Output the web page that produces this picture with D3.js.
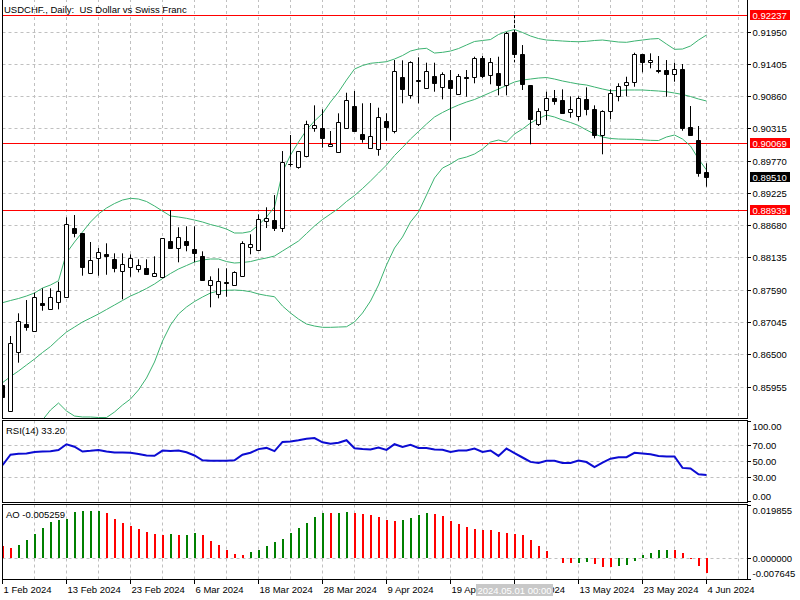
<!DOCTYPE html>
<html><head><meta charset="utf-8">
<script src="https://cdn.jsdelivr.net/npm/d3@7/dist/d3.min.js"></script>
<style>
html,body{margin:0;padding:0;background:#fff;}
svg{display:block;}
text{font-family:"Liberation Sans",Arial,sans-serif;font-size:9.5px;fill:#000;}
</style></head><body>
<svg id="chart" width="800" height="600"></svg>
<script>
// ---------- DATA ----------
const dates = ["2024.02.01","2024.02.02","2024.02.05","2024.02.06","2024.02.07","2024.02.08","2024.02.09","2024.02.12","2024.02.13","2024.02.14","2024.02.15","2024.02.16","2024.02.19","2024.02.20","2024.02.21","2024.02.22","2024.02.23","2024.02.26","2024.02.27","2024.02.28","2024.02.29","2024.03.01","2024.03.04","2024.03.05","2024.03.06","2024.03.07","2024.03.08","2024.03.11","2024.03.12","2024.03.13","2024.03.14","2024.03.15","2024.03.18","2024.03.19","2024.03.20","2024.03.21","2024.03.22","2024.03.25","2024.03.26","2024.03.27","2024.03.28","2024.03.29","2024.04.01","2024.04.02","2024.04.03","2024.04.04","2024.04.05","2024.04.08","2024.04.09","2024.04.10","2024.04.11","2024.04.12","2024.04.15","2024.04.16","2024.04.17","2024.04.18","2024.04.19","2024.04.22","2024.04.23","2024.04.24","2024.04.25","2024.04.26","2024.04.29","2024.04.30","2024.05.01","2024.05.02","2024.05.03","2024.05.06","2024.05.07","2024.05.08","2024.05.09","2024.05.10","2024.05.13","2024.05.14","2024.05.15","2024.05.16","2024.05.17","2024.05.20","2024.05.21","2024.05.22","2024.05.23","2024.05.24","2024.05.27","2024.05.28","2024.05.29","2024.05.30","2024.05.31","2024.06.03","2024.06.04"];

const open  = [0.85989,0.85555,0.86551,0.87019,0.86896,0.87368,0.87267,0.87391,0.87470,0.88635,0.88551,0.87875,0.88128,0.88196,0.88112,0.87909,0.87977,0.87943,0.87960,0.87824,0.87808,0.88416,0.88297,0.88416,0.88280,0.88162,0.87673,0.87521,0.87723,0.87673,0.87835,0.88314,0.88264,0.88758,0.88775,0.88640,0.89721,0.89665,0.89856,0.90324,0.90324,0.90030,0.89918,0.90334,0.90695,0.90222,0.89986,0.89969,0.90442,0.90273,0.91185,0.90881,0.91134,0.90999,0.91212,0.91016,0.91145,0.90898,0.91185,0.91185,0.91506,0.91219,0.91263,0.91050,0.91955,0.91573,0.91050,0.90396,0.90628,0.90830,0.90797,0.90594,0.90537,0.90814,0.90645,0.90216,0.90611,0.90864,0.91050,0.91101,0.91578,0.91438,0.91303,0.91308,0.91236,0.91320,0.90341,0.90126,0.89586];
const high  = [0.86023,0.86816,0.87200,0.87424,0.87548,0.87622,0.87622,0.87733,0.88821,0.88860,0.88556,0.88404,0.88302,0.88382,0.88213,0.88213,0.88196,0.88112,0.88112,0.88162,0.88470,0.88944,0.88652,0.88669,0.88669,0.88247,0.87824,0.87960,0.87960,0.87909,0.88416,0.88534,0.88871,0.88990,0.89197,0.89940,0.90211,0.89938,0.90452,0.90712,0.90645,0.90278,0.90577,0.90925,0.90954,0.90746,0.90751,0.90672,0.90577,0.91477,0.91472,0.91455,0.91523,0.91432,0.91432,0.91269,0.91308,0.91241,0.91308,0.91533,0.91545,0.91511,0.91533,0.91950,0.92237,0.91730,0.91052,0.90662,0.90942,0.90971,0.90982,0.90864,0.90864,0.91016,0.90712,0.90628,0.90982,0.91084,0.91195,0.91600,0.91580,0.91590,0.91545,0.91477,0.91432,0.91410,0.90700,0.90363,0.89733];
const low   = [0.85736,0.85550,0.86366,0.86906,0.86890,0.87244,0.87260,0.87267,0.87465,0.88483,0.87835,0.87870,0.87835,0.87851,0.87892,0.87436,0.87817,0.87892,0.87855,0.87820,0.87791,0.88295,0.88061,0.88247,0.88061,0.87765,0.87301,0.87453,0.87480,0.87670,0.87824,0.88196,0.88260,0.88640,0.88590,0.88573,0.89675,0.89642,0.89834,0.90266,0.89996,0.90027,0.89915,0.90330,0.90280,0.90081,0.89983,0.89861,0.90114,0.90239,0.90746,0.90824,0.90746,0.90995,0.90942,0.90814,0.90114,0.90895,0.90857,0.91084,0.91173,0.91067,0.90881,0.90881,0.91438,0.90971,0.90054,0.90363,0.90464,0.90722,0.90585,0.90503,0.90452,0.90543,0.90155,0.89885,0.90481,0.90780,0.90864,0.91026,0.91269,0.91337,0.91253,0.90857,0.91111,0.90283,0.90214,0.89507,0.89338];
const close = [0.85786,0.86693,0.87065,0.86973,0.87470,0.87345,0.87470,0.87571,0.88703,0.88561,0.87987,0.88095,0.88230,0.88172,0.87960,0.88027,0.88128,0.88010,0.87858,0.87875,0.88466,0.88297,0.88483,0.88348,0.88213,0.87767,0.87757,0.87740,0.87720,0.87892,0.88382,0.88365,0.88787,0.88809,0.88640,0.89750,0.89718,0.89935,0.90391,0.90374,0.90165,0.90054,0.90430,0.90797,0.90283,0.90138,0.90189,0.90520,0.90341,0.91286,0.90993,0.91438,0.91130,0.91296,0.91084,0.91241,0.91009,0.91202,0.91182,0.91506,0.91212,0.91438,0.91050,0.91938,0.91573,0.91067,0.90486,0.90621,0.90830,0.90790,0.90587,0.90645,0.90830,0.90645,0.90211,0.90611,0.90915,0.91043,0.91101,0.91578,0.91438,0.91472,0.91300,0.91236,0.91320,0.90324,0.90216,0.89574,0.89510];

// Bollinger Bands (20)
const bbUpper  = [0.87379,0.87416,0.87450,0.87492,0.87543,0.87627,0.87678,0.87750,0.88218,0.88404,0.88573,0.88742,0.88877,0.88978,0.89054,0.89113,0.89142,0.89130,0.89088,0.89012,0.88927,0.88843,0.88826,0.88804,0.88775,0.88742,0.88699,0.88666,0.88623,0.88556,0.88556,0.88581,0.88691,0.88826,0.88995,0.89586,0.89873,0.90092,0.90295,0.90447,0.90574,0.90768,0.90937,0.91139,0.91325,0.91384,0.91422,0.91435,0.91449,0.91494,0.91553,0.91629,0.91663,0.91675,0.91595,0.91607,0.91629,0.91671,0.91731,0.91790,0.91807,0.91823,0.91908,0.91959,0.91992,0.91942,0.91883,0.91840,0.91815,0.91807,0.91798,0.91790,0.91786,0.91793,0.91807,0.91815,0.91798,0.91781,0.91776,0.91798,0.91815,0.91832,0.91840,0.91747,0.91658,0.91663,0.91714,0.91815,0.91899];
const bbMiddle = [0.86028,0.86132,0.86225,0.86327,0.86428,0.86538,0.86639,0.86766,0.86884,0.86968,0.87053,0.87120,0.87188,0.87264,0.87340,0.87416,0.87492,0.87551,0.87619,0.87695,0.87787,0.87872,0.87948,0.88007,0.88066,0.88100,0.88117,0.88117,0.88074,0.88049,0.88058,0.88074,0.88108,0.88134,0.88167,0.88252,0.88336,0.88421,0.88547,0.88674,0.88784,0.88877,0.88970,0.89088,0.89189,0.89307,0.89434,0.89569,0.89704,0.89865,0.90000,0.90143,0.90270,0.90396,0.90515,0.90591,0.90658,0.90717,0.90768,0.90810,0.90869,0.90928,0.90988,0.91047,0.91106,0.91139,0.91156,0.91173,0.91182,0.91156,0.91123,0.91097,0.91072,0.91055,0.91021,0.90988,0.90959,0.90962,0.90971,0.90971,0.90971,0.90962,0.90954,0.90942,0.90920,0.90895,0.90861,0.90819,0.90785];
const bbLower  = [0.84554,0.84722,0.84891,0.85060,0.85229,0.85398,0.85567,0.85685,0.85550,0.85465,0.85449,0.85449,0.85440,0.85440,0.85533,0.85651,0.85753,0.85905,0.86107,0.86377,0.86732,0.87002,0.87188,0.87306,0.87399,0.87475,0.87543,0.87576,0.87588,0.87593,0.87585,0.87565,0.87526,0.87500,0.87480,0.87323,0.87205,0.87103,0.87019,0.86985,0.86963,0.86963,0.86968,0.86973,0.87053,0.87205,0.87407,0.87678,0.88015,0.88302,0.88488,0.88742,0.88910,0.89197,0.89485,0.89653,0.89721,0.89805,0.89839,0.89890,0.89974,0.90092,0.90126,0.90092,0.90228,0.90312,0.90413,0.90489,0.90548,0.90515,0.90464,0.90422,0.90371,0.90295,0.90228,0.90177,0.90152,0.90143,0.90140,0.90138,0.90130,0.90121,0.90118,0.90177,0.90211,0.90143,0.90025,0.89805,0.89620];

// RSI(14)
const rsi = [45.4,58.5,59.6,60,62,62.5,62.9,64.3,71.5,68.5,62.5,63.3,64.5,62.5,61.2,61.2,61,59.5,57.5,57.2,63.7,63,63.7,61.5,57.5,51.5,50.8,50.8,50.8,51.5,58.5,61,65.5,67,63,74.5,75,76.5,78.5,79.3,74,72.2,73.5,76.6,66.5,65.5,65,67.5,64.5,71.6,68.3,70.8,67,67,65,64.7,62,63.7,63.7,66.2,62,63.7,57,66.2,60.5,55,49.5,48.2,50.8,50.8,48.2,48.2,51.2,49.3,42.9,48.5,53.5,55.4,55.4,60.8,60,59.1,57,56.2,56.2,42,41.2,34.1,33.2];

// Awesome Oscillator
const ao = [0.00450,0.00386,0.00498,0.00673,0.00907,0.01119,0.01342,0.01416,0.01453,0.01713,0.01750,0.01752,0.01755,0.01687,0.01453,0.01304,0.01193,0.01081,0.00981,0.00907,0.00870,0.00907,0.00870,0.00872,0.00933,0.00870,0.00647,0.00498,0.00312,0.00164,0.00126,0.00227,0.00312,0.00461,0.00609,0.00721,0.00944,0.01130,0.01316,0.01538,0.01687,0.01685,0.01690,0.01713,0.01687,0.01639,0.01613,0.01538,0.01416,0.01390,0.01416,0.01501,0.01628,0.01676,0.01639,0.01576,0.01379,0.01267,0.01167,0.01093,0.01044,0.01040,0.00981,0.00933,0.00922,0.00870,0.00673,0.00450,0.00264,0.00010,-0.00182,-0.00185,-0.00156,-0.00145,-0.00208,-0.00320,-0.00331,-0.00282,-0.00230,-0.00097,0.00126,0.00216,0.00301,0.00305,0.00298,0.00201,-0.00020,-0.00282,-0.005259];

const priceTicks = [0.91950,0.91405,0.90860,0.90315,0.89770,0.89225,0.88680,0.88135,0.87590,0.87045,0.86500,0.85955];
const levelLines = [0.92237,0.90069,0.88939];
const lastPrice = 0.89510;
const rsiTicks = [100,70,50,30,0];
const rsiGrid = [70,50,30];
const aoTicks = [0.019855,0,-0.007645];
const xTickDates = ["2024.02.01","2024.02.13","2024.02.23","2024.03.06","2024.03.18","2024.03.28","2024.04.09","2024.04.19","2024.05.01","2024.05.13","2024.05.23","2024.06.04"];
const xTickLabels = ["1 Feb 2024","13 Feb 2024","23 Feb 2024","6 Mar 2024","18 Mar 2024","28 Mar 2024","9 Apr 2024","19 Apr 2024","1 May 2024","13 May 2024","23 May 2024","4 Jun 2024"];
const selectedDate = "2024.05.01";
const selectedLabel = "2024.05.01 00:00";
const titleMain = "USDCHF., Daily:  US Dollar vs Swiss Franc";
const titleRsi = "RSI(14) 33.20";
const titleAo = "AO -0.005259";

// ---------- LAYOUT ----------
const svg = d3.select("#chart");
const L = 2.5, R = 747.5;
const panels = {
  main: {top: -1, bottom: 418.5},
  rsi:  {top: 420.5, bottom: 502.5},
  ao:   {top: 504.5, bottom: 579.5}
};
const idx = new Map(dates.map((d,i)=>[d,i]));
const x = d3.scaleLinear().domain([0, 93.125]).range([2.5, 747.5]);
const yP = d3.scaleLinear().domain([0.85432, 0.92457]).range([418, 2]);
const yR = d3.scaleLinear().domain([0,100]).range([501.5,421.5]);
const yA = d3.scaleLinear().domain([-0.007645,0.019855]).range([579,505]);
const crisp = v => Math.floor(v) + 0.5;

const defs = svg.append("defs");
Object.entries(panels).forEach(([k,p])=>{
  defs.append("clipPath").attr("id","clip-"+k).append("rect")
    .attr("x", L+0.5).attr("y", p.top+0.5).attr("width", R-L-1).attr("height", p.bottom-p.top-1);
});

const gridColor = "#c0c0c0", dash = "3,3";
const gridIdx = d3.range(4, 93, 4);

function drawPanelGrid(key, hVals, yScale){
  const p = panels[key];
  const g = svg.append("g").attr("clip-path","url(#clip-"+key+")");
  g.selectAll("line.v").data(gridIdx).join("line")
    .attr("x1", i=>crisp(x(i))).attr("x2", i=>crisp(x(i)))
    .attr("y1", p.top).attr("y2", p.bottom)
    .attr("stroke", gridColor).attr("stroke-dasharray", dash).attr("stroke-width",1);
  g.selectAll("line.h").data(hVals).join("line")
    .attr("x1", L).attr("x2", R)
    .attr("y1", d=>crisp(yScale(d))).attr("y2", d=>crisp(yScale(d)))
    .attr("stroke", gridColor).attr("stroke-dasharray", dash).attr("stroke-width",1);
  return g;
}

// ---------- MAIN PANEL ----------
const gMain = drawPanelGrid("main", priceTicks, yP);

gMain.selectAll("line.lvl").data(levelLines).join("line")
  .attr("x1", L).attr("x2", R)
  .attr("y1", d=>crisp(yP(d))).attr("y2", d=>crisp(yP(d)))
  .attr("stroke", "#ff0000").attr("stroke-width", 1);

const bbLine = d3.line().x((d,i)=>x(i)).y(d=>yP(d));
[bbUpper, bbMiddle, bbLower].forEach(arr=>{
  gMain.append("path").datum(arr).attr("d", bbLine)
    .attr("fill","none").attr("stroke","#3cb371").attr("stroke-width",1);
});

const candles = dates.map((d,i)=>({d,i,o:open[i],h:high[i],l:low[i],c:close[i]}));
const gC = gMain.append("g");
gC.selectAll("line.wick").data(candles).join("line")
  .attr("x1", c=>crisp(x(c.i))).attr("x2", c=>crisp(x(c.i)))
  .attr("y1", c=>yP(c.h)).attr("y2", c=>yP(c.l))
  .attr("stroke","#000").attr("stroke-width",1)
  .attr("stroke-dasharray", c=>c.d===selectedDate ? "3,2" : null);
gC.selectAll("path.body").data(candles).join("path")
  .attr("d", c=>{
    const cx = Math.floor(x(c.i));
    const t = Math.round(yP(Math.max(c.o,c.c))) + 0.5;
    const b = Math.round(yP(Math.min(c.o,c.c))) + 0.5;
    return `M${cx-1.5},${t}H${cx+2.5}V${b}H${cx-1.5}Z`;
  })
  .attr("fill", c=> c.c < c.o ? "#000" : "#fff")
  .attr("stroke","#000").attr("stroke-width",1);

// ---------- RSI PANEL ----------
const gRsi = drawPanelGrid("rsi", rsiGrid, yR);
gRsi.append("path").datum(rsi)
  .attr("d", d3.line().x((d,i)=>x(i)).y(d=>yR(d)))
  .attr("fill","none").attr("stroke","#0c0cd2").attr("stroke-width",2);

// ---------- AO PANEL ----------
const gAo = drawPanelGrid("ao", [0], yA);
const y0 = Math.round(yA(0));
gAo.selectAll("rect.ao").data(ao).join("rect")
  .attr("x", (d,i)=>Math.floor(x(i))).attr("width", 2)
  .attr("y", d=>Math.min(y0, Math.round(yA(d))))
  .attr("height", d=>Math.abs(Math.round(yA(d)) - y0))
  .attr("fill", (d,i)=> (i>0 && d > ao[i-1]) ? "#008000" : "#ff0000");

// ---------- FRAMES ----------
Object.values(panels).forEach(p=>{
  svg.append("rect").attr("x", L).attr("y", p.top).attr("width", R-L).attr("height", p.bottom-p.top)
    .attr("fill","none").attr("stroke","#000").attr("stroke-width",1);
});

// ---------- TITLES ----------
svg.append("text").attr("x", 4).attr("y", 13).style("white-space","pre").text(titleMain);
svg.append("text").attr("x", 6).attr("y", 434).text(titleRsi);
svg.append("text").attr("x", 6).attr("y", 517.5).text(titleAo);

// ---------- RIGHT AXES ----------
const gAx = svg.append("g");
function axisLabels(vals, scale, fmt, clampTop, clampBot){
  vals.forEach(v=>{
    const yy = scale(v);
    gAx.append("line").attr("x1", R).attr("x2", 751).attr("y1", crisp(yy)).attr("y2", crisp(yy))
      .attr("stroke","#000").attr("stroke-width",1);
    const ty = Math.max(clampTop, Math.min(clampBot, yy));
    gAx.append("text").attr("x", 752.5).attr("y", ty + 3.5).text(fmt(v));
  });
}
axisLabels(priceTicks, yP, v=>v.toFixed(5), -100, 1000);
axisLabels(rsiTicks, yR, v=>v.toFixed(2), 426, 496);
axisLabels(aoTicks, yA, v=>v.toFixed(6), 510, 573.5);

function priceTag(v, color){
  const yy = Math.round(yP(v));
  gAx.append("rect").attr("x", 750).attr("y", yy-5).attr("width", 40).attr("height", 10).attr("fill", color);
  gAx.append("text").attr("x", 752.5).attr("y", yy+3.5).style("fill","#fff").text(v.toFixed(5));
}
levelLines.forEach(v=>priceTag(v, "#ff0000"));
priceTag(lastPrice, "#000");

// ---------- X AXIS ----------
const sx = x(idx.get(selectedDate));
const tagX0 = Math.round(sx - 38.5), tagW = 77;
// labels are hidden beneath the crosshair date tag, as in the terminal
const xClip = defs.append("clipPath").attr("id","clip-xlabels");
xClip.append("rect").attr("x", 0).attr("y", 580).attr("width", tagX0).attr("height", 20);
xClip.append("rect").attr("x", tagX0 + tagW).attr("y", 580).attr("width", 800 - tagX0 - tagW).attr("height", 20);

const gX = svg.append("g");
const gXL = svg.append("g").attr("clip-path","url(#clip-xlabels)");
xTickDates.forEach((d,k)=>{
  const xx = x(idx.get(d));
  gX.append("line").attr("x1", crisp(xx)).attr("x2", crisp(xx)).attr("y1", panels.ao.bottom).attr("y2", 584)
    .attr("stroke","#000").attr("stroke-width",1);
  gXL.append("text").attr("x", xx+1).attr("y", 592.5).text(xTickLabels[k]);
});
// crosshair date tag
gX.append("rect").attr("x", tagX0).attr("y", 584).attr("width", tagW).attr("height", 12).attr("fill","#c8c8c8");
gX.append("text").attr("x", sx).attr("y", 593.5).attr("text-anchor","middle").style("fill","#fff").text(selectedLabel);
</script>
</body></html>
